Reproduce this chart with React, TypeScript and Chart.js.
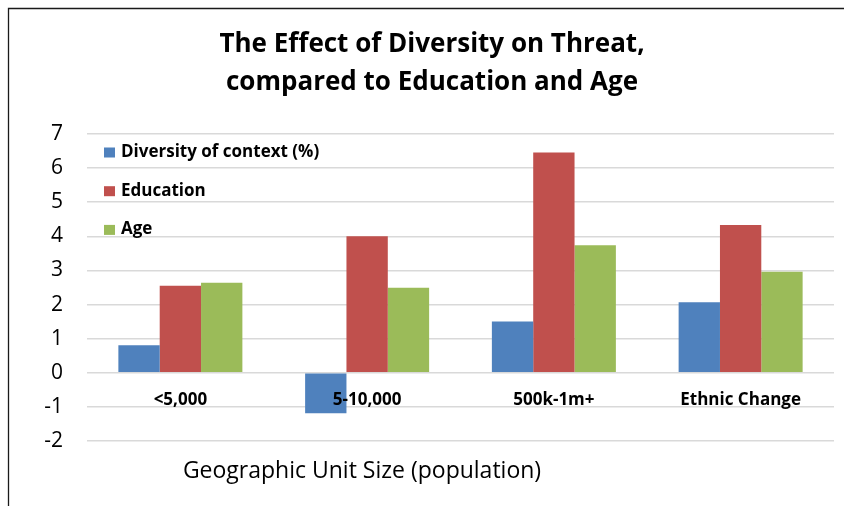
import React, { useEffect, useRef } from "react";
import { Chart, registerables } from "chart.js";

Chart.register(...registerables);

const categories = ["<5,000", "5-10,000", "500k-1m+", "Ethnic Change"];
const seriesNames = ["Diversity of context (%)", "Education", "Age"];
const diversity = [0.81, -1.19, 1.5, 2.07];
const education = [2.55, 4.0, 6.46, 4.33];
const age = [2.64, 2.49, 3.74, 2.96];
const seriesColors = ["#4F81BD", "#C0504D", "#9BBB59"];
const titleLines = ["The Effect of Diversity on Threat,", "compared to Education and Age"];
const xAxisTitle = "Geographic Unit Size (population)";
const yMin = -2;
const yMax = 7;
const yStep = 1;

const FONT = "'Open Sans'";

const overlayPlugin = {
  id: "overlay",
  afterDraw(chart: any) {
    const { ctx, chartArea } = chart;
    const xs = chart.scales.x;
    const ys = chart.scales.y;
    ctx.save();
    // frame
    ctx.strokeStyle = "#1a1a1a";
    ctx.lineWidth = 1.3;
    ctx.beginPath();
    ctx.moveTo(8.5, chart.height);
    ctx.lineTo(8.5, 8.5);
    ctx.lineTo(chart.width, 8.5);
    ctx.stroke();

    ctx.fillStyle = "#000";
    // title
    ctx.font = `bold 26px ${FONT}`;
    ctx.textAlign = "center";
    ctx.textBaseline = "alphabetic";
    ctx.fillText(titleLines[0], 432, 52);
    ctx.fillText(titleLines[1], 432, 90);

    // category labels next to zero line
    const y0 = ys.getPixelForValue(0);
    ctx.font = `bold 17px ${FONT}`;
    ctx.textBaseline = "middle";
    categories.forEach((c, i) => {
      ctx.fillText(c, xs.getPixelForValue(i), y0 + 27);
    });

    // axis title
    ctx.font = `23px ${FONT}`;
    ctx.textBaseline = "middle";
    ctx.fillText(xAxisTitle, 362, 471);

    // legend
    ctx.textAlign = "left";
    ctx.font = `bold 17px ${FONT}`;
    seriesNames.forEach((n, i) => {
      const cy = chartArea.top + 18 + i * 38.7;
      ctx.fillStyle = seriesColors[i];
      ctx.fillRect(chartArea.left + 17, cy - 4.5, 11, 10);
      ctx.fillStyle = "#000";
      ctx.fillText(n, chartArea.left + 34, cy);
    });
    ctx.restore();
  },
};

export default function App() {
  const ref = useRef<HTMLCanvasElement | null>(null);
  useEffect(() => {
    if (!ref.current) return;
    const chart = new Chart(ref.current, {
      type: "bar",
      data: {
        labels: categories,
        datasets: [diversity, education, age].map((d, i) => ({
          label: seriesNames[i],
          data: d,
          backgroundColor: seriesColors[i],
          borderWidth: 0,
          categoryPercentage: 0.664,
          barPercentage: 1,
        })),
      },
      options: {
        animation: false,
        responsive: false,
        maintainAspectRatio: false,
        layout: { padding: { top: 134, bottom: 65, right: 10, left: 0 } },
        plugins: {
          legend: { display: false },
          title: { display: false },
          tooltip: { enabled: false },
        },
        scales: {
          x: {
            display: false,
          },
          y: {
            min: yMin,
            max: yMax,
            afterFit(scale: any) {
              scale.width = 87;
            },
            ticks: {
              stepSize: yStep,
              padding: 24,
              color: "#000",
              font: { family: FONT, size: 21 },
            },
            border: { display: false },
            grid: {
              color: "#d9d9d9",
              lineWidth: 1.5,
              drawTicks: false,
            },
          },
        },
      },
      plugins: [overlayPlugin],
    });
    return () => chart.destroy();
  }, []);
  return (
    <div style={{ position: "fixed", left: 0, top: 0, width: 844, height: 506, overflow: "hidden", background: "#fff" }}>
      <canvas ref={ref} width={844} height={506} style={{ width: 844, height: 506, display: "block" }} />
    </div>
  );
}
